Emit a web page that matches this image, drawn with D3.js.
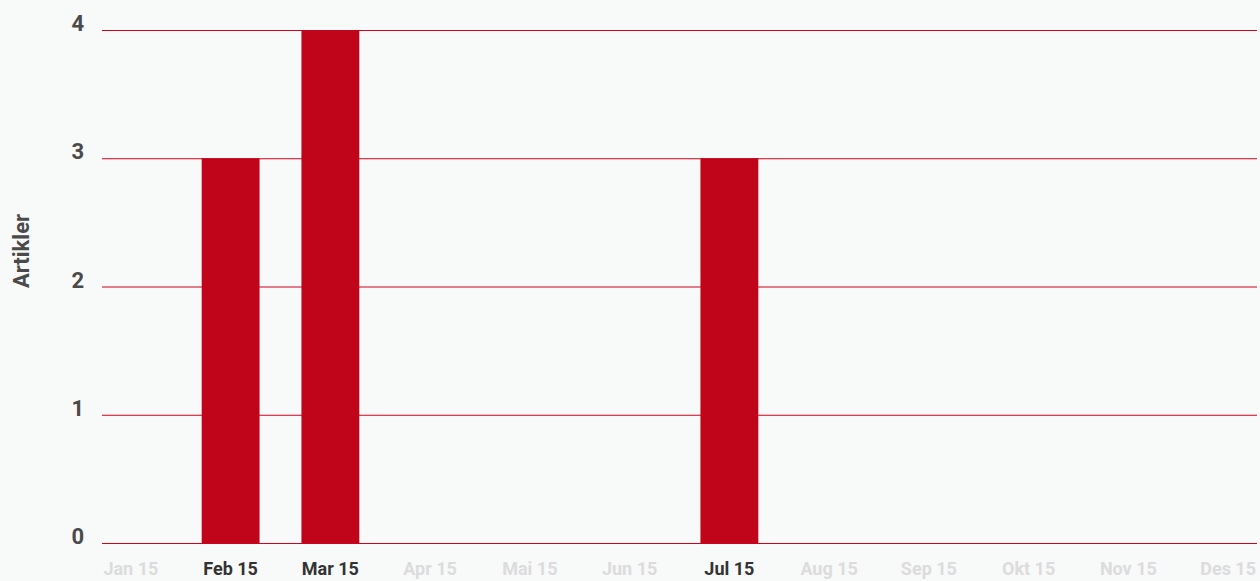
<!DOCTYPE html>
<html lang="no">
<head>
    <meta charset="UTF-8">
    <title>Artikler per måned</title>
    <script src="https://d3js.org/d3.v7.min.js"></script>
    <style>
        body { margin: 0; background: #f8f9f9; }
        svg text { font-family: Roboto, "Open Sans", sans-serif; font-weight: bold; }
    </style>
</head>
<body>
<script>
    // Data
    let months = ["Jan 15", "Feb 15", "Mar 15", "Apr 15", "Mai 15", "Jun 15",
                  "Jul 15", "Aug 15", "Sep 15", "Okt 15", "Nov 15", "Des 15"];
    let articles = [0, 3, 4, 0, 0, 0, 3, 0, 0, 0, 0, 0];
    let yTicks = [0, 1, 2, 3, 4];

    let width = 1260;
    let height = 581;

    let svg = d3.select("body").append("svg")
        .attr("width", width)
        .attr("height", height);

    let x = d3.scaleBand()
        .domain(months)
        .range([81, 1278])
        .paddingInner(0.42)
        .paddingOuter(0.21);

    let y = d3.scaleLinear()
        .domain([0, 4])
        .range([543, 30]);

    // gridlines
    svg.append("g")
        .selectAll("line")
        .data(yTicks)
        .enter().append("line")
        .attr("x1", 102)
        .attr("x2", 1257)
        .attr("y1", d => y(d) + 0.5)
        .attr("y2", d => y(d) + 0.5)
        .attr("stroke", "#d0021b")
        .attr("stroke-width", 1.2);

    // y tick labels
    svg.append("g")
        .selectAll("text")
        .data(yTicks)
        .enter().append("text")
        .attr("x", 84)
        .attr("y", d => y(d) + 1)
        .attr("text-anchor", "end")
        .attr("font-size", 22)
        .attr("fill", "#4a4a4a")
        .text(d => d);

    // bars
    svg.append("g")
        .selectAll("rect")
        .data(months.map((m, i) => ({month: m, value: articles[i]})).filter(d => d.value > 0))
        .enter().append("rect")
        .attr("x", d => x(d.month))
        .attr("width", x.bandwidth())
        .attr("y", d => y(d.value))
        .attr("height", d => y(0) - y(d.value))
        .attr("fill", "#c0041a");

    // x labels
    svg.append("g")
        .selectAll("text")
        .data(months)
        .enter().append("text")
        .attr("x", (d) => x(d) + x.bandwidth() / 2)
        .attr("y", 575)
        .attr("text-anchor", "middle")
        .attr("font-size", 18)
        .attr("fill", (d, i) => articles[i] > 0 ? "#333333" : "#dcdcdc")
        .text(d => d);

    // y axis title
    svg.append("text")
        .attr("transform", "translate(29,251) rotate(-90)")
        .attr("text-anchor", "middle")
        .attr("font-size", 22)
        .attr("fill", "#4a4a4a")
        .text("Artikler");
</script>
</body>
</html>
